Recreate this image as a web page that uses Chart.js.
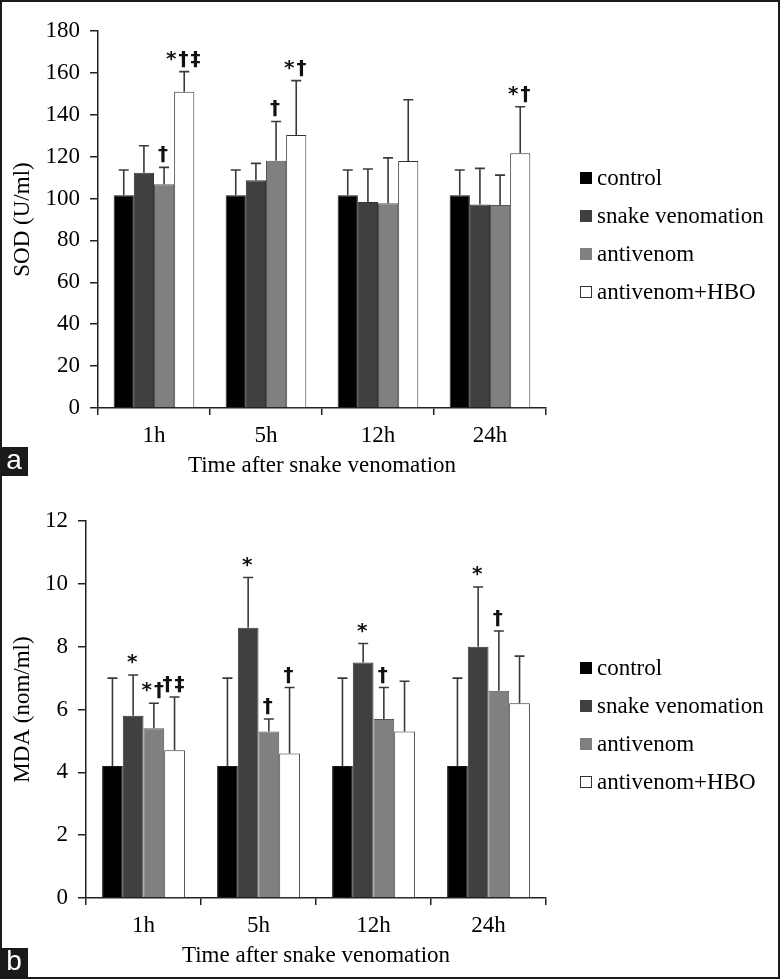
<!DOCTYPE html>
<html>
<head>
<meta charset="utf-8">
<script src="https://cdn.jsdelivr.net/npm/chart.js@4/dist/chart.umd.min.js"></script>
<style>
  html, body { margin: 0; padding: 0; background: #fff; }
  #wrap { position: relative; width: 780px; height: 979px; background: #fff; overflow: hidden; }
  canvas { position: absolute; left: 0; }
  #frame { position: absolute; left: 0; top: 0; width: 780px; height: 979px; box-sizing: border-box; border: 2px solid #1a1a1a; pointer-events: none; }
  .plabel { position: absolute; left: 0; width: 28px; background: #1a1a1a; color: #fff;
    font-family: 'Liberation Sans', Arial, sans-serif; font-size: 28px; line-height: 26px; text-align: center; }
</style>
</head>
<body>
<div id="wrap">
  <canvas id="cA" width="780" height="489" style="top:0px"></canvas>
  <canvas id="cB" width="780" height="489" style="top:490px"></canvas>
  <div class="plabel" style="top:447px;height:29px;">a</div>
  <div class="plabel" style="top:948px;height:31px;">b</div>
  <div id="frame"></div>
</div>
<script>
// ---------- DATA ----------
const categories = ['1h', '5h', '12h', '24h'];
const seriesNames = ['control', 'snake venomation', 'antivenom', 'antivenom+HBO'];

// Panel a: SOD (U/ml)
const sodControl   = [101.6, 101.6, 101.6, 101.6];
const sodSnake     = [112.3, 108.7, 98.4, 97.2];
const sodAntivenom = [106.8, 118.1, 97.7, 96.9];
const sodHBO       = [151.0, 130.3, 117.9, 121.6];
const sodControlSD   = [12.0, 12.0, 12.0, 12.0];
const sodSnakeSD     = [12.9, 8.1, 15.7, 17.2];
const sodAntivenomSD = [8.1, 18.7, 21.7, 14.3];
const sodHBOSD       = [9.6, 26.0, 29.3, 22.2];
const sodControlNote   = ['', '', '', ''];
const sodSnakeNote     = ['', '', '', ''];
const sodAntivenomNote = ['†', '†', '', ''];
const sodHBONote       = ['*†‡', '*†', '', '*†'];
const sodTicks = [0, 20, 40, 60, 80, 100, 120, 140, 160, 180];

// Panel b: MDA (nom/ml)
const mdaControl   = [4.2, 4.2, 4.2, 4.2];
const mdaSnake     = [5.8, 8.6, 7.5, 8.0];
const mdaAntivenom = [5.4, 5.3, 5.7, 6.6];
const mdaHBO       = [4.7, 4.6, 5.3, 6.2];
const mdaControlSD   = [2.8, 2.8, 2.8, 2.8];
const mdaSnakeSD     = [1.3, 1.6, 0.6, 1.9];
const mdaAntivenomSD = [0.8, 0.4, 1.0, 1.9];
const mdaHBOSD       = [1.7, 2.1, 1.6, 1.5];
const mdaControlNote   = ['', '', '', ''];
const mdaSnakeNote     = ['*', '*', '*', '*'];
const mdaAntivenomNote = ['*†', '†', '†', '†'];
const mdaHBONote       = ['†‡', '†', '', ''];
const mdaTicks = [0, 2, 4, 6, 8, 10, 12];

// ---------- STYLE ----------
const SERIF = "'Liberation Serif', 'Times New Roman', serif";
const fills = ['#000000', '#404040', '#808080', '#ffffff'];
const borders = ['#1a1a1a', '#333333', '#555555', '#333333'];

const errorPlugin = {
  id: 'errorBars',
  afterDatasetsDraw(chart) {
    const ctx = chart.ctx;
    const y = chart.scales.y;
    ctx.save();
    chart.data.datasets.forEach((ds, i) => {
      const meta = chart.getDatasetMeta(i);
      meta.data.forEach((bar, j) => {
        const top = ds.data[j] + ds.sd[j];
        const yTop = y.getPixelForValue(top);
        const yBar = bar.y;
        ctx.strokeStyle = '#3a3a3a';
        ctx.lineWidth = 1.6;
        ctx.beginPath();
        ctx.moveTo(bar.x, yBar);
        ctx.lineTo(bar.x, yTop);
        ctx.moveTo(bar.x - 5, yTop);
        ctx.lineTo(bar.x + 5, yTop);
        ctx.stroke();
        const note = ds.note[j];
        if (note) {
          ctx.fillStyle = '#111';
          ctx.font = "bold 20px 'DejaVu Sans', sans-serif";
          ctx.textAlign = 'center';
          ctx.textBaseline = 'alphabetic';
          ctx.fillText(note.split('').join('\u200A'), bar.x - 1, yTop - 7);
        }
      });
    });
    ctx.restore();
  }
};

const legendPlugin = {
  id: 'sideLegend',
  afterDraw(chart) {
    const ctx = chart.ctx;
    ctx.save();
    const rows = [178, 216, 254, 292];
    chart.data.datasets.forEach((ds, i) => {
      const cy = rows[i];
      ctx.fillStyle = ds.backgroundColor;
      ctx.fillRect(580, cy - 6, 12, 12);
      if (i === 3) {
        ctx.strokeStyle = '#333';
        ctx.lineWidth = 1;
        ctx.strokeRect(580.5, cy - 5.5, 11, 11);
      }
      ctx.fillStyle = '#000';
      ctx.font = '23px ' + SERIF;
      ctx.textAlign = 'left';
      ctx.textBaseline = 'middle';
      ctx.fillText(ds.label, 597, cy + 1);
    });
    ctx.restore();
  }
};

function makeChart(id, vals, sds, notes, ticks, yTitle, leftEdge) {
  const datasets = seriesNames.map((name, i) => ({
    label: name,
    data: vals[i],
    sd: sds[i],
    note: notes[i],
    backgroundColor: fills[i],
    borderColor: borders[i],
    borderWidth: 1,
    categoryPercentage: 0.72,
    barPercentage: 1.0
  }));
  return new Chart(document.getElementById(id), {
    type: 'bar',
    data: { labels: categories, datasets },
    options: {
      responsive: false,
      animation: false,
      devicePixelRatio: 1,
      layout: { padding: { left: 0, top: 31, right: 780 - 546, bottom: 0 } },
      plugins: { legend: { display: false }, tooltip: { enabled: false } },
      scales: {
        x: {
          grid: { display: true, drawOnChartArea: false, drawTicks: true, tickLength: 7, color: '#222', lineWidth: 1.5, offset: true },
          border: { display: true, color: '#222', width: 1.5 },
          ticks: { color: '#000', font: { family: SERIF, size: 23 }, padding: 7 },
          title: { display: true, text: 'Time after snake venomation', color: '#000', font: { family: SERIF, size: 23 }, padding: { top: 0, bottom: 9 } },
          afterFit: (s) => { s.height = 81; }
        },
        y: {
          min: ticks[0],
          max: ticks[ticks.length - 1],
          afterBuildTicks: (s) => { s.ticks = ticks.map(v => ({ value: v })); },
          grid: { display: true, drawOnChartArea: false, drawTicks: true, tickLength: 8, color: '#222', lineWidth: 1.5 },
          border: { display: true, color: '#222', width: 1.5 },
          ticks: { color: '#000', font: { family: SERIF, size: 23 }, padding: 10 },
          title: { display: true, text: yTitle, color: '#000', font: { family: SERIF, size: 23 }, padding: { top: 9, bottom: 0 } },
          afterFit: (s) => { s.width = leftEdge; }
        }
      }
    },
    plugins: [errorPlugin, legendPlugin]
  });
}

makeChart('cA',
  [sodControl, sodSnake, sodAntivenom, sodHBO],
  [sodControlSD, sodSnakeSD, sodAntivenomSD, sodHBOSD],
  [sodControlNote, sodSnakeNote, sodAntivenomNote, sodHBONote],
  sodTicks, 'SOD (U/ml)', 98);

makeChart('cB',
  [mdaControl, mdaSnake, mdaAntivenom, mdaHBO],
  [mdaControlSD, mdaSnakeSD, mdaAntivenomSD, mdaHBOSD],
  [mdaControlNote, mdaSnakeNote, mdaAntivenomNote, mdaHBONote],
  mdaTicks, 'MDA (nom/ml)', 86);
</script>
</body>
</html>
